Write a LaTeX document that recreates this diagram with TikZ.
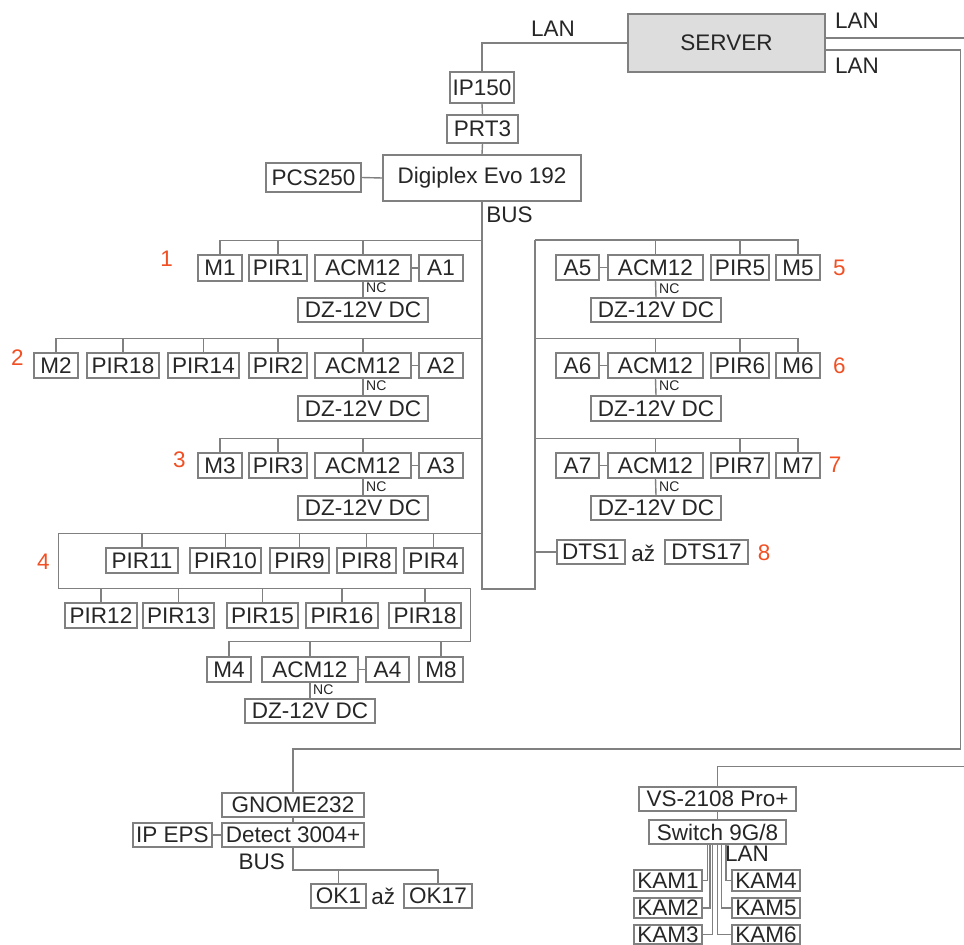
\documentclass[tikz,border=0pt]{standalone}
\usepackage{fontspec}
\setmainfont{Liberation Sans}
\definecolor{wiregray}{RGB}{128,128,128}
\definecolor{inkgray}{RGB}{38,38,38}
\definecolor{srvfill}{RGB}{221,221,221}
\definecolor{zonered}{RGB}{240,80,35}
\tikzset{
	unit/.style={draw=wiregray, line width=1.4pt, inner sep=0pt, text=inkgray, font=\fontsize{22.5}{24}\selectfont},
	wire/.style={draw=wiregray, line width=1.4pt},
	tag/.style={inner sep=0pt, text=inkgray, font=\fontsize{22.5}{24}\selectfont},
	nc/.style={inner sep=0pt, anchor=west, text=inkgray, font=\fontsize{14}{16}\selectfont},
	zone/.style={inner sep=0pt, text=zonered, font=\fontsize{22.5}{24}\selectfont}
}
\def\devbox[#1](#2)(#3:#4:#5:#6)#7{\node[unit,#1,minimum width={#5-#3},minimum height={#6-#4}] (#2) at ({(#3+#5)/2},{(#4+#6)/2}) {#7};}

\begin{document}
\begin{tikzpicture}[x=1pt, y=-1pt]
			%%%%% START %%%%%
			\useasboundingbox (0,0) rectangle (964,945);
			\clip (0,0) rectangle (964,945);
			
			\devbox[fill=srvfill](srv)(628:14:825:72){SERVER}
			\devbox[](ip)(450:72:514:103){IP150}
			\devbox[](prt)(447:115:518:143){PRT3}
			\devbox[](evo)(383:155:581:201){Digiplex Evo 192}
			\devbox[](pcs)(266:163:361:192){PCS250}
			
			\node[tag] (lanip) at (553,28.5) {LAN};
			\node[tag] (lanup) at (857,20.5) {LAN};
			\node[tag] (landn) at (857,65.5) {LAN};
			\node[tag] (busevo) at (509.6,215) {BUS};
			
			\coordinate (lanr) at (964,38);
			\coordinate (lanq) at (960.5,50);
			\coordinate (gnomebend) at (960.5,749);
			\coordinate (vsbend) at (964,766.7);
			\coordinate (busend) at (482,589);
			\coordinate (rtop) at (535,240);
			
			\draw[wire] (srv.west) -| (ip.north);
			\draw[wire] (ip.south) -- (prt.north);
			\draw[wire] (prt.south) -- (evo.north);
			\draw[wire] (pcs.east) -- (evo.west);
			\draw[wire] (srv.east |- lanr) -- (lanr);
			\draw[wire] (evo.south) -- (evo.south |- busend) -| (rtop);
			
			% zone 1
			\devbox[](m1)(198:255:242:281){M1}
			\devbox[](pir1)(249:255:307:281){PIR1}
			\devbox[](acm1)(315:255:411:281){ACM12}
			\devbox[](a1)(419:255:463:281){A1}
			\devbox[](dz1)(298:298:428:322){DZ-12V DC}
			\node[nc] (nc1) at (366,288) {NC};
			\node[zone] (z1) at (166.7,258.3) {1};
			\coordinate (g1) at (482,240.7);
			\draw[wire] (g1) -| (m1.north);
			\draw[wire] (pir1.north) -- (pir1.north |- g1);
			\draw[wire] (acm1.north) -- (acm1.north |- g1);
			\draw[wire] (acm1.east) -- (a1.west);
			\draw[wire] (acm1.south) -- (dz1.north);
			
			% zone 2
			\devbox[](m2)(34:353:78:378){M2}
			\devbox[](pir18a)(87:353:159:378){PIR18}
			\devbox[](pir14)(168:353:239:378){PIR14}
			\devbox[](pir2)(249:353:307:378){PIR2}
			\devbox[](acm2)(315:353:411:378){ACM12}
			\devbox[](a2)(419:353:463:378){A2}
			\devbox[](dz2)(298:396:428:421){DZ-12V DC}
			\node[nc] (nc2) at (366,386) {NC};
			\node[zone] (z2) at (17.3,357.3) {2};
			\coordinate (g2) at (482,338.3);
			\draw[wire] (g2) -| (m2.north);
			\draw[wire] (pir18a.north) -- (pir18a.north |- g2);
			\draw[wire] (pir14.north) -- (pir14.north |- g2);
			\draw[wire] (pir2.north) -- (pir2.north |- g2);
			\draw[wire] (acm2.north) -- (acm2.north |- g2);
			\draw[wire] (acm2.east) -- (a2.west);
			\draw[wire] (acm2.south) -- (dz2.north);
			
			% zone 3
			\devbox[](m3)(198:453:242:478){M3}
			\devbox[](pir3)(249:453:307:478){PIR3}
			\devbox[](acm3)(315:453:411:478){ACM12}
			\devbox[](a3)(419:453:463:478){A3}
			\devbox[](dz3)(298:496:428:520){DZ-12V DC}
			\node[nc] (nc3) at (366,486.5) {NC};
			\node[zone] (z3) at (179.3,459.3) {3};
			\coordinate (g3) at (482,438.3);
			\draw[wire] (g3) -| (m3.north);
			\draw[wire] (pir3.north) -- (pir3.north |- g3);
			\draw[wire] (acm3.north) -- (acm3.north |- g3);
			\draw[wire] (acm3.east) -- (a3.west);
			\draw[wire] (acm3.south) -- (dz3.north);
			
			% zone 4
			\devbox[](pir11)(106:548:178:573){PIR11}
			\devbox[](pir10)(190:548:261:573){PIR10}
			\devbox[](pir9)(270:548:329:573){PIR9}
			\devbox[](pir8)(337:548:396:573){PIR8}
			\devbox[](pir4)(404:548:463:573){PIR4}
			\devbox[](pir12)(65:603:137:628){PIR12}
			\devbox[](pir13)(143:603:214:628){PIR13}
			\devbox[](pir15)(227:603:298:628){PIR15}
			\devbox[](pir16)(306:603:378:628){PIR16}
			\devbox[](pir18b)(389:603:461:628){PIR18}
			\devbox[](m4)(207:657:251:682){M4}
			\devbox[](acm4)(262:657:358:682){ACM12}
			\devbox[](a4)(366:657:409:682){A4}
			\devbox[](m8)(419:657:463:682){M8}
			\devbox[](dz4)(245:699:375:723){DZ-12V DC}
			\node[nc] (nc4) at (313,690) {NC};
			\node[zone] (z4) at (43.3,561.7) {4};
			\coordinate (g4) at (482,533.3);
			\coordinate (g4a) at (58.7,588.3);
			\coordinate (g4b) at (470.7,641.7);
			\draw[wire] (g4) -| (g4a) -| (g4b) -| (m4.north);
			\draw[wire] (pir11.north) -- (pir11.north |- g4);
			\draw[wire] (pir10.north) -- (pir10.north |- g4);
			\draw[wire] (pir9.north) -- (pir9.north |- g4);
			\draw[wire] (pir8.north) -- (pir8.north |- g4);
			\draw[wire] (pir4.north) -- (pir4.north |- g4);
			\draw[wire] (pir12.north) -- (pir12.north |- g4a);
			\draw[wire] (pir13.north) -- (pir13.north |- g4a);
			\draw[wire] (pir15.north) -- (pir15.north |- g4a);
			\draw[wire] (pir16.north) -- (pir16.north |- g4a);
			\draw[wire] (pir18b.north) -- (pir18b.north |- g4a);
			\draw[wire] (acm4.north) -- (acm4.north |- g4b);
			\draw[wire] (m8.north) -- (m8.north |- g4b);
			\draw[wire] (acm4.east) -- (a4.west);
			\draw[wire] (acm4.south) -- (dz4.north);
			
			% zone 5
			\devbox[](a5)(556:255:599:280){A5}
			\devbox[](acm5)(608:255:703:280){ACM12}
			\devbox[](pir5)(711:255:769:280){PIR5}
			\devbox[](m5)(776:255:820:280){M5}
			\devbox[](dz5)(591:298:721:322){DZ-12V DC}
			\node[nc] (nc5) at (659,288.3) {NC};
			\node[zone] (z5) at (839.3,268.3) {5};
			\draw[wire] (rtop) -| (m5.north);
			\draw[wire] (pir5.north) -- (pir5.north |- rtop);
			\draw[wire] (acm5.north) -- (acm5.north |- rtop);
			\draw[wire] (a5.east) -- (acm5.west);
			\draw[wire] (acm5.south) -- (dz5.north);
			
			% zone 6
			\devbox[](a6)(556:353:599:378){A6}
			\devbox[](acm6)(608:353:703:378){ACM12}
			\devbox[](pir6)(711:353:769:378){PIR6}
			\devbox[](m6)(776:353:820:378){M6}
			\devbox[](dz6)(591:396:721:421){DZ-12V DC}
			\node[nc] (nc6) at (659,386) {NC};
			\node[zone] (z6) at (839.3,366) {6};
			\coordinate (g6) at (535,338.3);
			\draw[wire] (g6) -| (m6.north);
			\draw[wire] (pir6.north) -- (pir6.north |- g6);
			\draw[wire] (acm6.north) -- (acm6.north |- g6);
			\draw[wire] (a6.east) -- (acm6.west);
			\draw[wire] (acm6.south) -- (dz6.north);
			
			% zone 7
			\devbox[](a7)(556:453:599:478){A7}
			\devbox[](acm7)(608:453:703:478){ACM12}
			\devbox[](pir7)(711:453:769:478){PIR7}
			\devbox[](m7)(776:453:820:478){M7}
			\devbox[](dz7)(591:496:721:520){DZ-12V DC}
			\node[nc] (nc7) at (659,486.5) {NC};
			\node[zone] (z7) at (835,465) {7};
			\coordinate (g7) at (535,438.3);
			\draw[wire] (g7) -| (m7.north);
			\draw[wire] (pir7.north) -- (pir7.north |- g7);
			\draw[wire] (acm7.north) -- (acm7.north |- g7);
			\draw[wire] (a7.east) -- (acm7.west);
			\draw[wire] (acm7.south) -- (dz7.north);
			
			% zone 8
			\devbox[](dts1)(557:540:625:564){DTS1}
			\devbox[](dts17)(665:540:748:564){DTS17}
			\node[tag] (azdts) at (643.3,553) {až};
			\node[zone] (z8) at (764,552.7) {8};
			\draw[wire] (dts1.west) -- (dts1.west -| rtop);
			
			% fire detection
			\devbox[](gnome)(222:793:364:817){GNOME232}
			\devbox[](det)(222:823:364:847){Detect 3004+}
			\devbox[](ipeps)(133:823:212:847){IP EPS}
			\devbox[](ok1)(311:884:366:908){OK1}
			\devbox[](ok17)(404:884:472:908){OK17}
			\node[tag] (busdet) at (261.7,861.7) {BUS};
			\node[tag] (azok) at (383.3,896) {až};
			\coordinate (okb) at (293,870);
			\draw[wire] (srv.east |- lanq) -- (lanq) -- (gnomebend) -| (gnome.north);
			\draw[wire] (gnome.south) -- (det.north);
			\draw[wire] (ipeps.east) -- (det.west);
			\draw[wire] (det.south) -- (okb) -| (ok17.north);
			\draw[wire] (ok1.north) -- (ok1.north |- okb);
			
			% cameras
			\devbox[](vs)(639:787:796:811){VS-2108 Pro+}
			\devbox[](sw)(649:820:786:844){Switch 9G/8}
			\devbox[](kam1)(634:870:702:891){KAM1}
			\devbox[](kam2)(634:898:702:918){KAM2}
			\devbox[](kam3)(634:925:702:944){KAM3}
			\devbox[](kam4)(732:870:800:891){KAM4}
			\devbox[](kam5)(732:898:800:918){KAM5}
			\devbox[](kam6)(732:925:800:944){KAM6}
			\node[tag] (lancam) at (747,854) {LAN};
			\draw[wire] (vsbend) -| (vs.north);
			\draw[wire] (vs.south) -- (sw.north);
			\draw[wire] ([xshift=-10.2]sw.south) |- (kam1.east);
			\draw[wire] ([xshift=-7.5]sw.south) |- (kam2.east);
			\draw[wire] ([xshift=-4.8]sw.south) |- (kam3.east);
			\draw[wire] ([xshift=8.5]sw.south) |- (kam4.west);
			\draw[wire] ([xshift=4.2]sw.south) |- (kam5.west);
			\draw[wire] ([xshift=0.2]sw.south) |- (kam6.west);
			
			%%%%% END %%%%%
\end{tikzpicture}
\end{document}
